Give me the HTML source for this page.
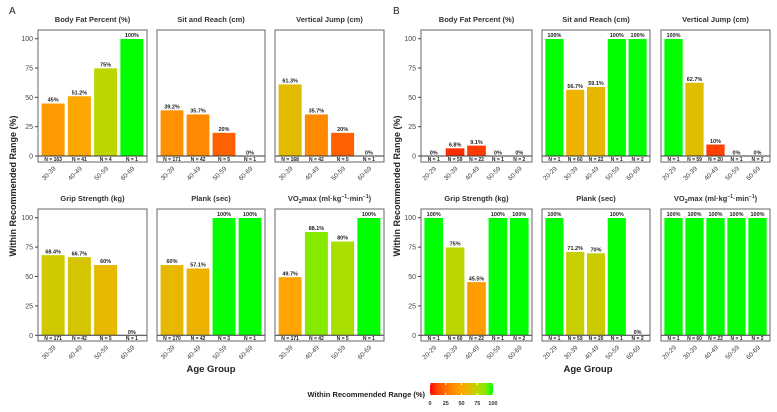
<!DOCTYPE html>
<html><head><meta charset="utf-8"><style>
body{margin:0;background:#fff}
svg{display:block;font-family:"Liberation Sans",Arial,sans-serif}
</style></head><body>
<svg id="chart" width="777" height="412" viewBox="0 0 777 412"></svg>
<script>
const catsA = ["30-39","40-49","50-59","60-69"];
const catsB = ["20-29","30-39","40-49","50-59","60-69"];
const titles = ["Body Fat Percent (%)","Sit and Reach (cm)","Vertical Jump (cm)","Grip Strength (kg)","Plank (sec)","VO2max"];
const valsA = [[45,51.2,75,100],[39.2,35.7,20,0],[61.3,35.7,20,0],[68.4,66.7,60,0],[60,57.1,100,100],[49.7,88.1,80,100]];
const nA = [[163,41,4,1],[171,42,5,1],[168,42,5,1],[171,42,5,1],[170,42,3,1],[171,42,5,1]];
const valsB = [[0,6.8,9.1,0,0],[100,56.7,59.1,100,100],[100,62.7,10,0,0],[100,75,45.5,100,100],[100,71.2,70,100,0],[100,100,100,100,100]];
const nB = [[1,59,22,1,2],[1,60,22,1,2],[1,59,20,1,2],[1,60,22,1,2],[1,59,20,1,2],[1,60,22,1,2]];
const yTicks = [0,25,50,75,100];
const legendTicks = [0,25,50,75,100];

const svg = document.getElementById('chart');
const NS = "http://www.w3.org/2000/svg";
function mk(tag, attrs, parent){const e=document.createElementNS(NS,tag);for(const k in attrs)e.setAttribute(k,attrs[k]);(parent||svg).appendChild(e);return e;}
const stops=[[0,[255,0,0]],[10,[255,64,0]],[20,[255,96,0]],[35,[255,136,0]],[50,[255,165,0]],[60,[230,184,0]],[75,[190,214,0]],[88,[132,234,0]],[100,[0,255,0]]];
function col(v){for(let i=1;i<stops.length;i++){if(v<=stops[i][0]){const a=stops[i-1],b=stops[i];const t=(v-a[0])/(b[0]-a[0]);const c=a[1].map((x,j)=>Math.round(x+(b[1][j]-x)*t));return `rgb(${c})`;}}return 'rgb(0,255,0)';}

const colsA=[[38,147],[157,265],[275,384]];
const colsB=[[421,532],[542,650],[661,770]];
const rows=[{top:30,y100:38.7,y0:156,bot:162,ty:22},{top:209,y100:217.7,y0:335.3,bot:341,ty:201}];

function panel(xr,row,cats,vals,ns,title,first){
  const g=mk('g',{});
  
  
  const yS=v=>row.y0-(row.y0-row.y100)*v/100;
  const bw=(xr[1]-xr[0]-4)/cats.length;
  cats.forEach((c,i)=>{
    const x0=xr[0]+2+i*bw+bw*0.05, w=bw*0.9, v=vals[i];
    const r=mk('rect',{x:x0,y:yS(v),width:w,height:row.y0-yS(v),fill:col(v),stroke:'#fff','stroke-width':0.6},g);
    
    
    const t=mk('text',{x:x0+w/2,y:yS(v)-1.5,'font-size':5.5,'font-weight':'bold','text-anchor':'middle',fill:'#222'},g);t.textContent=v+'%';
    const n=mk('text',{x:x0+w/2,y:row.bot-1,'font-size':5,'font-weight':'bold','text-anchor':'middle',fill:'#222'},g);n.textContent='N = '+ns[i];
    const cx=x0+w/2;
    const lab=mk('text',{x:cx+3,y:row.bot+7,'font-size':6.5,'text-anchor':'end',fill:'#444',transform:`rotate(-45 ${cx+3} ${row.bot+7})`},g);lab.textContent=c;
  });
  mk('line',{x1:xr[0],x2:xr[1],y1:row.y0,y2:row.y0,stroke:'#333','stroke-width':1},g);
  mk('rect',{x:xr[0],y:row.top,width:xr[1]-xr[0],height:row.bot-row.top,fill:'none',stroke:'#666','stroke-width':1},g);
  const tt=mk('text',{x:(xr[0]+xr[1])/2,y:row.ty,'font-size':7.5,'font-weight':'bold','text-anchor':'middle',fill:'#333'},g);
  if(title==='VO2max'){tt.innerHTML='VO<tspan font-size="5.5" dy="2">2</tspan><tspan dy="-2">max (ml·kg</tspan><tspan font-size="5" dy="-3">−1</tspan><tspan dy="3">·min</tspan><tspan font-size="5" dy="-3">−1</tspan><tspan dy="3">)</tspan>';}
  else tt.textContent=title;
  if(first){
    yTicks.forEach(v=>{
      mk('line',{x1:xr[0]-3,x2:xr[0],y1:yS(v),y2:yS(v),stroke:'#444'},g);
      const t=mk('text',{x:xr[0]-5,y:yS(v)+2.5,'font-size':7,'text-anchor':'end',fill:'#444'},g);t.textContent=v;
    });
  }
}
[[colsA,catsA,valsA,nA],[colsB,catsB,valsB,nB]].forEach(([cols,cats,vals,ns])=>{
  for(let k=0;k<6;k++){const r=Math.floor(k/3),c=k%3;panel(cols[c],rows[r],cats,vals[k],ns[k],titles[k],c===0);}
});
function txt(x,y,s,attrs,name){const t=mk('text',Object.assign({x:x,y:y},attrs));t.textContent=s;return t;}
txt(9,14,'A',{'font-size':10,fill:'#222'},'panel-a-label');
txt(393,14,'B',{'font-size':10,fill:'#222'},'panel-b-label');
txt(211,372,'Age Group',{'font-size':9.5,'font-weight':'bold','text-anchor':'middle',fill:'#222'},'x-axis-title-a');
txt(588,372,'Age Group',{'font-size':9.5,'font-weight':'bold','text-anchor':'middle',fill:'#222'},'x-axis-title-b');
txt(16,186,'Within Recommended Range (%)',{'font-size':9,'font-weight':'bold','text-anchor':'middle',fill:'#222',transform:'rotate(-90 16 186)'},'y-axis-title-a');
txt(400,186,'Within Recommended Range (%)',{'font-size':9,'font-weight':'bold','text-anchor':'middle',fill:'#222',transform:'rotate(-90 400 186)'},'y-axis-title-b');
txt(425,397,'Within Recommended Range (%)',{'font-size':7.5,'font-weight':'bold','text-anchor':'end',fill:'#222'},'legend-title');
const defs=mk('defs',{});const lg=mk('linearGradient',{id:'lg',x1:0,x2:1,y1:0,y2:0},defs);
stops.forEach(s=>mk('stop',{offset:s[0]+'%','stop-color':col(s[0])},lg));
const bar=mk('rect',{x:430,y:383,width:63,height:12,fill:'url(#lg)'});


legendTicks.forEach(v=>{const x=430+63*v/100;mk('line',{x1:x,x2:x,y1:383,y2:385,stroke:'#fff'});mk('line',{x1:x,x2:x,y1:393,y2:395,stroke:'#fff'});
  const t=mk('text',{x:x,y:405,'font-size':5.5,'font-weight':'bold','text-anchor':'middle',fill:'#333'});t.textContent=v;});
</script>
</body></html>
